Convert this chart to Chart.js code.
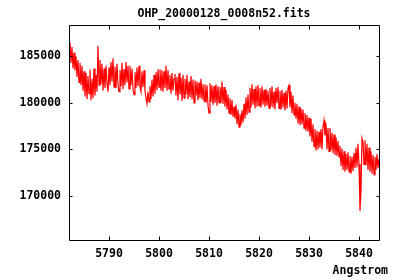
<!DOCTYPE html>
<html>
<head>
<meta charset="utf-8">
<script src="https://cdn.jsdelivr.net/npm/chart.js@4/dist/chart.umd.min.js"></script>
<style>
	html, body { margin: 0; padding: 0; background: #fff; }
	#wrap { width: 400px; height: 280px; }
</style>
</head>
<body>
<div id="wrap"><canvas id="spectrum"></canvas></div>
<script>
// wavelength grid of the spectrum (Angstrom)
const wlStart = 5782.0;
const wlStep = 0.2;

// flux values, one per grid step
const flux = [
	185800, 186500, 184300, 186000, 183700, 185400,
	183500, 185000, 182800, 184600, 182200, 184300, 181900, 184000, 181300, 183400,
	180700, 183200, 180400, 182900, 181000, 183600, 180300, 182600, 180500, 183700, 180800, 183000, 181200, 186100, 181900,
	184600, 182000, 184200, 181300, 183700, 181600, 184000, 182100, 181200, 183800, 181900, 184400, 182300, 184800, 181700,
	183900, 181600, 184200, 182000, 181200, 183500, 181800, 184300, 181500, 183600, 181900, 184400, 182200, 184000, 181500,
	184000, 181900, 183700, 181500, 180900, 183300, 181600, 183800, 181800, 184000, 181700, 181200, 183400, 181700, 183500,
	181300, 180500, 179900, 181200, 180100, 181800, 180400, 182500, 180700, 183000, 181000, 183300, 181400, 183600, 181700,
	183600, 181300, 183500, 181200, 183400, 181600, 184000, 181300, 183500, 181500, 183000, 181000, 183200, 181300, 182600,
	183100, 180800, 182800, 180300, 183200, 180900, 182700, 180200, 183000, 180500, 182600, 180900, 183000, 180400, 182300,
	180600, 182900, 180400, 182500, 180000, 182400, 180800, 182300, 180300, 182200, 180500, 182600, 180400, 182000, 180200,
	182000, 180000, 181900, 179700, 178900, 182100, 180100, 181900, 179800, 181800, 180000, 182000, 179700, 181800, 180000,
	181700, 180000, 182300, 179900, 181700, 179600, 181400, 179300, 180900, 178900, 180500, 178700, 180300, 178500, 179600,
	178300, 179800, 177700, 179300, 177400, 178800, 177600, 179200, 177900, 179900, 178300, 180600, 178700, 180900, 179000,
	181600, 179500, 182000, 179800, 181500, 179400, 181800, 179600, 181900, 179700, 181600, 179500, 181800, 179800, 181400,
	179600, 181500, 179700, 181300, 179400, 181600, 179600, 181800, 179500, 181200, 179300, 181600, 180000, 181700, 179400,
	181300, 179300, 181400, 179500, 181100, 179200, 181300, 179400, 181600, 181900, 179500, 181200, 178900, 180800, 178700,
	180000, 178300, 179900, 177800, 179600, 177600, 179400, 177700, 179300, 177300, 178900, 177000, 178700, 176900, 178400,
	176400, 178300, 175800, 177700, 175300, 177200, 174900, 177000, 175000, 176900, 175200, 177200, 175000, 177400, 178100,
	176500, 177800, 175000, 177300, 174800, 177300, 174900, 176800, 174600, 176600, 174400, 176300, 174300, 175900, 174200,
	175400, 173200, 175100, 172800, 174800, 172600, 174500, 172800, 174700, 172600, 174300, 172400, 174200, 172700, 174600,
	173000, 175200, 173100, 175600, 173400, 168400, 170600, 176200, 175800, 173400, 176000, 173300, 175600, 172800, 175200,
	172600, 174800, 172400, 174400, 172300, 174200, 172800, 174500, 173000, 174000,
];

const xTicks = [5790, 5800, 5810, 5820, 5830, 5840];
const yTicks = [170000, 175000, 180000, 185000];

const xRange = [5782, 5844];
const yRange = [165230, 188370];

Chart.defaults.font.family = "'DejaVu Sans Mono', monospace";
Chart.defaults.font.weight = 'bold';
Chart.defaults.font.size = 11.5;
Chart.defaults.color = '#000';

// gnuplot style box with inward ticks on all four sides
const frameBox = {
	id: 'frameBox',
	afterLayout(chart) {
		// centre the title over the plot box, not the canvas
		const tb = chart.titleBlock;
		if (tb) {
			tb.left = chart.chartArea.left;
			tb.right = chart.chartArea.right;
			tb.width = tb.right - tb.left;
		}
	},
	afterDatasetsDraw(chart) {
		const { ctx, chartArea: a, scales } = chart;
		const l = Math.round(a.left) + 0.5;
		const r = Math.round(a.right) + 0.5;
		const t = Math.round(a.top) + 0.5;
		const b = Math.round(a.bottom) + 0.5;
		ctx.save();
		ctx.strokeStyle = '#000';
		ctx.lineWidth = 1;
		ctx.beginPath();
		ctx.rect(l, t, r - l, b - t);
		xTicks.forEach((v) => {
			const px = Math.round(scales.x.getPixelForValue(v)) + 0.5;
			ctx.moveTo(px, b); ctx.lineTo(px, b - 4);
			ctx.moveTo(px, t); ctx.lineTo(px, t + 4);
		});
		yTicks.forEach((v) => {
			const py = Math.round(scales.y.getPixelForValue(v)) + 0.5;
			ctx.moveTo(l, py); ctx.lineTo(l + 3, py);
			ctx.moveTo(r, py); ctx.lineTo(r - 3, py);
		});
		ctx.stroke();
		ctx.restore();
	},
};

const points = flux.map((f, i) => ({ x: wlStart + i * wlStep, y: f }));

new Chart(document.getElementById('spectrum'), {
	type: 'line',
	data: {
		datasets: [
			{
				data: points,
				borderColor: '#ff0000',
				backgroundColor: '#ff0000',
				borderWidth: 1.2,
				pointRadius: 0,
				tension: 0,
			},
		],
	},
	options: {
		responsive: true,
		maintainAspectRatio: false,
		animation: false,
		layout: { padding: { left: 0, right: 12, top: 0, bottom: 2 } },
		plugins: {
			legend: { display: false },
			tooltip: { enabled: false },
			title: {
				display: true,
				text: 'OHP_20000128_0008n52.fits',
				padding: { top: 7.6, bottom: 3.6 },
				font: { size: 11.5, weight: 'bold', lineHeight: 1.2 },
			},
			subtitle: {
				display: true,
				text: 'Angstrom',
				position: 'bottom',
				align: 'end',
				padding: { top: 3, bottom: 0 },
				font: { size: 11.5, weight: 'bold', lineHeight: 1.2 },
			},
		},
		scales: {
			x: {
				type: 'linear',
				min: xRange[0],
				max: xRange[1],
				grid: { display: false, drawTicks: false },
				border: { display: false },
				ticks: {
					padding: 7,
					maxRotation: 0,
					callback: (v) => String(v),
				},
				afterBuildTicks: (s) => { s.ticks = xTicks.map((v) => ({ value: v })); },
				afterFit: (s) => { s.height = 20.8; },
			},
			y: {
				type: 'linear',
				min: yRange[0],
				max: yRange[1],
				grid: { display: false, drawTicks: false },
				border: { display: false },
				ticks: {
					padding: 8,
					callback: (v) => String(v),
				},
				afterBuildTicks: (s) => { s.ticks = yTicks.map((v) => ({ value: v })); },
				afterFit: (s) => { s.width = 69; },
			},
			yRight: {
				type: 'linear',
				position: 'right',
				min: yRange[0],
				max: yRange[1],
				grid: { display: false, drawTicks: false },
				border: { display: false },
				ticks: { display: false },
				afterFit: (s) => { s.width = 9; },
			},
		},
	},
	plugins: [frameBox],
});
</script>
</body>
</html>
